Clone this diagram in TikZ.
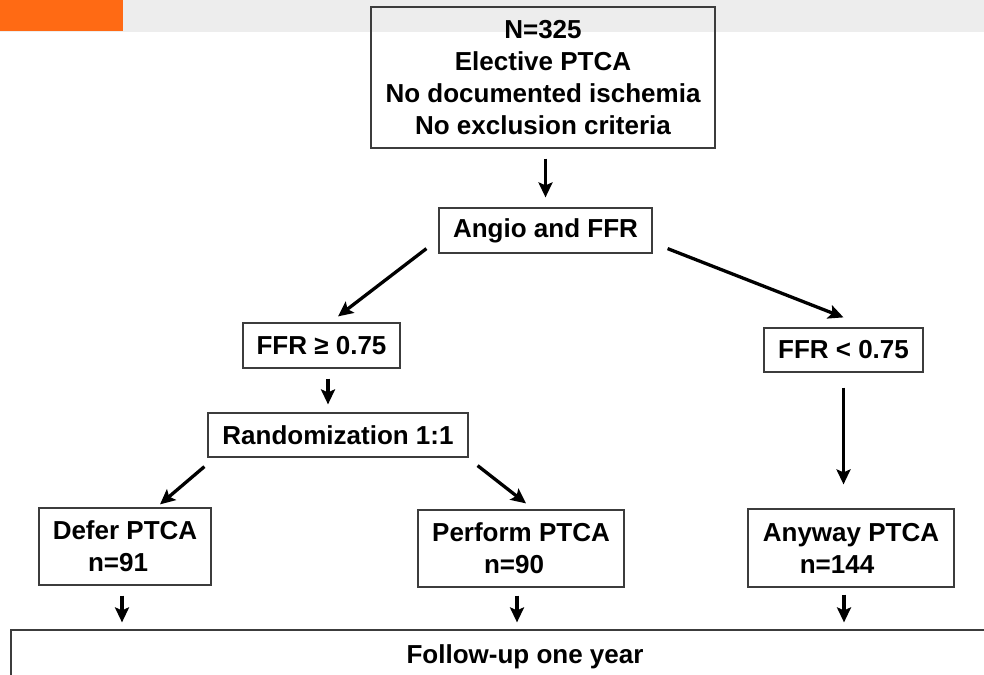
\documentclass[tikz,border=0pt]{standalone}
\usepackage{fontspec}
\setmainfont{Liberation Sans}
\usetikzlibrary{arrows.meta, positioning}
\definecolor{bandorange}{HTML}{FF6A14}
\definecolor{bandgrey}{HTML}{EDEDED}
\definecolor{boxline}{HTML}{3C3C3C}
\tikzset{>={Stealth[length=15pt, width=14pt, inset=3pt]},
  box/.style={draw=boxline, line width=1.2pt, inner sep=0pt, align=center,
    font=\bfseries\fontsize{26}{32}\selectfont},
  arr/.style={->, line width=3.3pt}}

\begin{document}
\begin{tikzpicture}[x=1pt, y=-1pt]
    \useasboundingbox (0,0) rectangle (984,674);
    \clip (0,0) rectangle (984,674);
    \fill[bandgrey] (0,0) rectangle (984,32);
    \fill[bandorange] (0,0) rectangle (123,31);

    \node[box, minimum width=344pt, minimum height=141pt] (patients) at (543,77.5)
        {N=325\\Elective PTCA\\No documented ischemia\\No exclusion criteria};
    \node[box, minimum width=213pt, minimum height=45pt] (angio) at (545.5,230.5) {Angio and FFR};
    \node[box, minimum width=157pt, minimum height=45pt] (ffr-high) at (321.5,345.5) {FFR ≥ 0.75};
    \node[box, minimum width=159pt, minimum height=44pt] (ffr-low) at (843.5,350) {FFR < 0.75};
    \node[box, minimum width=260pt, minimum height=44pt] (random) at (338,435) {Randomization 1:1};
    \node[box, minimum width=172pt, minimum height=77pt] (defer) at (125,546.5)
        {Defer PTCA\\n=91\hspace*{14pt}};
    \node[box, minimum width=206pt, minimum height=77pt] (perform) at (521,548.5)
        {Perform PTCA\\n=90\hspace*{14pt}};
    \node[box, minimum width=206pt, minimum height=78pt] (anyway) at (851,548)
        {Anyway PTCA\\n=144\hspace*{28pt}};
    \node[box, minimum width=1028pt, minimum height=54pt] (follow-up) at (525,657) {Follow-up one year};

    \draw[arr] ([yshift=-10pt]patients.south -| angio) -- ([yshift=10pt]angio.north);
    \draw[arr] ([xshift=-12pt, yshift=5pt]angio.south west) -- ([xshift=16.5pt, yshift=6pt]ffr-high.north);
    \draw[arr] ([xshift=15pt, yshift=5pt]angio.south east) -- ([yshift=10pt]ffr-low.north);
    \draw[arr] ([xshift=6.5pt, yshift=-10pt]ffr-high.south) -- ([xshift=-10pt, yshift=8pt]random.north);
    \draw[arr] ([yshift=-15pt]ffr-low.south) -- ([yshift=24pt]ffr-low.south |- anyway.north);
    \draw[arr] ([xshift=-3pt, yshift=-9pt]random.south west) -- ([xshift=35pt, yshift=3pt]defer.north);
    \draw[arr] ([xshift=9pt, yshift=-8pt]random.south east) -- ([xshift=5pt, yshift=6pt]perform.north);
    \draw[arr] ([xshift=-3pt, yshift=-10pt]defer.south) -- ([xshift=-3pt, yshift=7pt]defer.south |- follow-up.north);
    \draw[arr] ([xshift=-4pt, yshift=-8pt]perform.south) -- ([xshift=-4pt, yshift=7pt]perform.south |- follow-up.north);
    \draw[arr] ([xshift=-7pt, yshift=-7pt]anyway.south) -- ([xshift=-7pt, yshift=7pt]anyway.south |- follow-up.north);
\end{tikzpicture}
\end{document}
